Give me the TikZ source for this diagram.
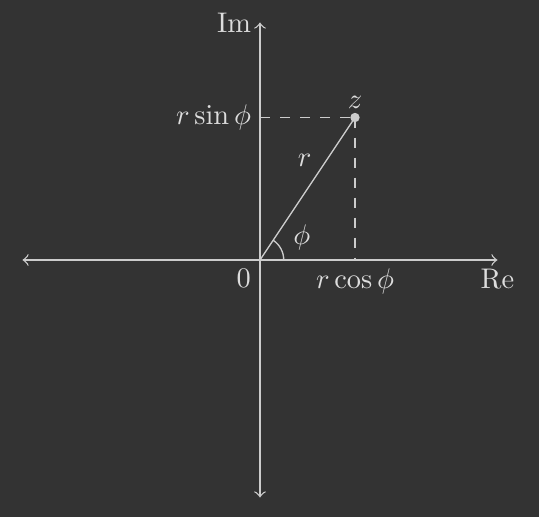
\documentclass[tikz,border=0pt]{standalone}
\usetikzlibrary{calc}
\definecolor{bg}{HTML}{333333}
\definecolor{fg}{HTML}{CCCCCC}
\definecolor{tx}{HTML}{DDDDDD}
\begin{document}
\begin{tikzpicture}[
  axis/.style={<->,draw=fg},
  guide/.style={draw=fg,dashed},
  lbl/.style={text=tx,inner sep=3pt,scale=0.85},
]
\fill[bg] (-2.737,-2.705) rectangle (2.937,2.737);
\useasboundingbox (-2.737,-2.705) rectangle (2.937,2.737);
\coordinate (O) at (0,0);
\coordinate (xl) at (-2.5,0);
\coordinate (xr) at (2.5,0);
\coordinate (yb) at (0,-2.5);
\coordinate (yt) at (0,2.5);
\coordinate (z) at (1,1.5);
\coordinate (zx) at (1,0);
\coordinate (zy) at (0,1.5);
\draw[axis] (xl) -- (xr);
\draw[axis] (yb) -- (yt);
\draw[guide] (zy) -- (z);
\draw[guide] (z) -- (zx);
\draw[fg] (O) -- (z);
\draw[fg] (0.25,0) arc[start angle=0,end angle=56.31,radius=0.25];
\fill[fg] (z) circle (1.4pt);
\node[lbl,left] (im) at (yt) {Im};
\node[lbl,below] (re) at (xr) {Re};
\node[lbl,below left] (zero) at (O) {$0$};
\node[lbl,below] (rc) at (zx) {$r\cos\phi$};
\node[lbl,left] (rs) at (zy) {$r\sin\phi$};
\node[lbl,above] (zl) at (z) {$z$};
\node[lbl] (rl) at (0.47,1.05) {$r$};
\node[lbl] (ph) at (0.44,0.24) {$\phi$};
\end{tikzpicture}
\end{document}
